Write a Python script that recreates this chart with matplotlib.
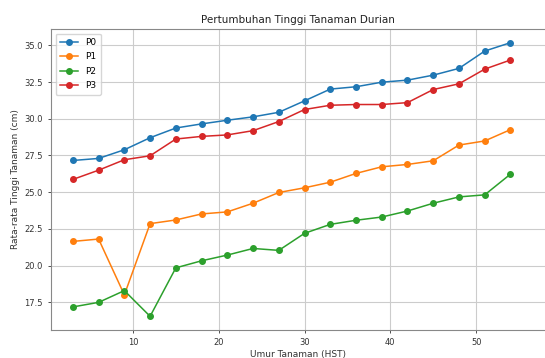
import numpy as np
import matplotlib
matplotlib.use("Agg")
import matplotlib.pyplot as plt

# umur tanaman (HST) dan rata-rata tinggi per perlakuan
hst = [3, 6, 9, 12, 15, 18, 21, 24, 27, 30, 33, 36, 39, 42, 45, 48, 51, 54]
p0 = [27.16, 27.30, 27.89, 28.71, 29.37, 29.65, 29.90, 30.13, 30.44, 31.22,
      32.02, 32.18, 32.49, 32.63, 32.97, 33.43, 34.61, 35.18]
p1 = [21.65, 21.81, 18.01, 22.86, 23.11, 23.52, 23.66, 24.25, 24.98, 25.30,
      25.68, 26.28, 26.73, 26.89, 27.14, 28.21, 28.49, 29.26]
p2 = [17.19, 17.50, 18.30, 16.55, 19.85, 20.33, 20.72, 21.17, 21.04, 22.20,
      22.81, 23.09, 23.31, 23.72, 24.25, 24.68, 24.82, 26.23]
p3 = [25.87, 26.50, 27.21, 27.48, 28.62, 28.80, 28.90, 29.19, 29.81, 30.63,
      30.92, 30.97, 30.97, 31.10, 31.99, 32.38, 33.38, 34.00]
labels = ["P0", "P1", "P2", "P3"]

fig = plt.figure(figsize=(5.45, 3.58), dpi=100)
ax = fig.add_axes([51 / 545, 28 / 358, (545 - 51) / 545, 301 / 358])

for y, lab in zip([p0, p1, p2, p3], labels):
    ax.plot(hst, y, "o-", label=lab, markersize=4, linewidth=1.1)

# the screenshot is cut at the right, so no right spine
ax.set_xlim(0.45, 0.45 + (545 - 51) / 8.58)
ax.spines["right"].set_visible(False)
ax.set_xticks([10, 20, 30, 40, 50])
ax.set_yticks([17.5, 20.0, 22.5, 25.0, 27.5, 30.0, 32.5, 35.0])
ax.tick_params(labelsize=6, length=2.5, width=0.6, colors="#333333")
for s in ax.spines.values():
    s.set_color("#888888")
    s.set_linewidth(0.8)

ax.set_title("Pertumbuhan Tinggi Tanaman Durian", fontsize=7.5, color="#222222", pad=4)
ax.set_xlabel("Umur Tanaman (HST)", fontsize=6.5, color="#333333", labelpad=2)
ax.set_ylabel("Rata-rata Tinggi Tanaman (cm)", fontsize=6.5, color="#333333", labelpad=3)
ax.grid(True, color="#cccccc", linewidth=0.8)
ax.legend(loc="upper left", fontsize=6.5, framealpha=0.8, borderpad=0.5, labelspacing=0.6)

fig.savefig("out.png", dpi=100)
